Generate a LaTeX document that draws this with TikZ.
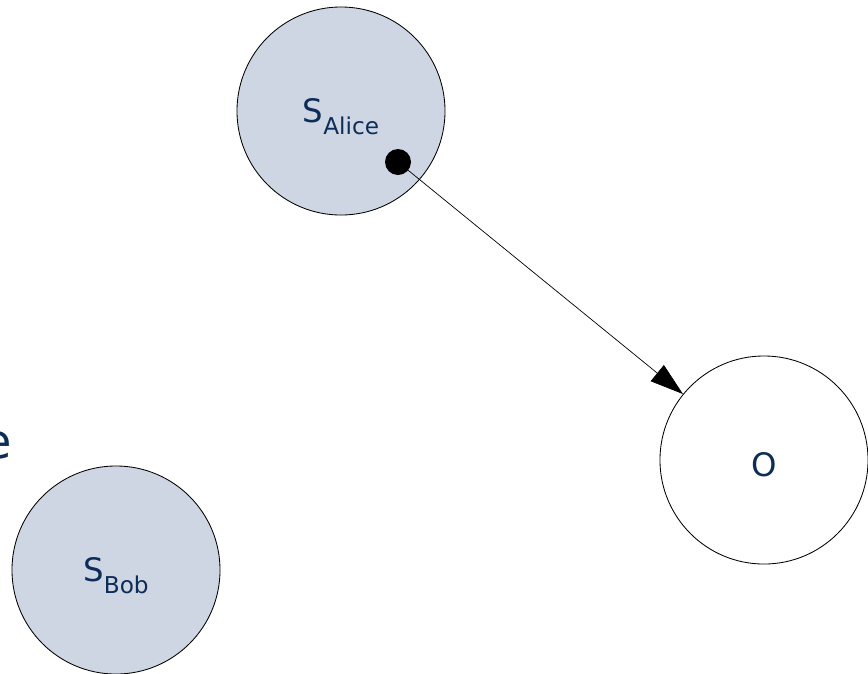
\documentclass[tikz,border=0pt]{standalone}
\usepackage{fontspec}
\setmainfont{DejaVu Sans}
\usetikzlibrary{arrows.meta, positioning}
\definecolor{partyfill}{RGB}{206,214,227}
\definecolor{labelblue}{RGB}{12,45,88}
% name with subscript, baseline set a little below the node centre
\newcommand{\party}[2]{\raisebox{-8pt}[0pt][0pt]{{\fontsize{23}{27}\selectfont #1}\raisebox{-9pt}{\fontsize{16.5}{19}\selectfont #2}}}
\tikzset{
  party/.style={
    circle, draw=black, line width=0.6pt, fill=partyfill,
    minimum size=5.2cm, inner sep=0pt, text=labelblue
  },
  target/.style={
    circle, draw=black, line width=0.6pt, fill=white,
    minimum size=5.2cm, inner sep=0pt, text=labelblue,
    font=\fontsize{23}{27}\selectfont
  },
  arrow/.style={
    -{Triangle[length=8.3mm, width=5.2mm]}, line width=0.5pt, black
  }
}
\begin{document}
\begin{tikzpicture}[x=0.025cm, y=-0.025cm]
\useasboundingbox (0,0) rectangle (868,673);
\node[party] (alice) at (341,111) {\party{S}{Alice}};
\node[party] (bob) at (116,570) {\party{S}{Bob}};
\node[target] (obj) at (764,460) {\raisebox{-11.7pt}[0pt][0pt]{O}};
\node[inner sep=0pt, anchor=base east, text=labelblue,
  font=\fontsize{34}{38}\selectfont] (cut) at (12,458) {e};
\fill (398,162) circle (13) coordinate (src);
\draw[arrow] (src) -- (obj);
\end{tikzpicture}
\end{document}
